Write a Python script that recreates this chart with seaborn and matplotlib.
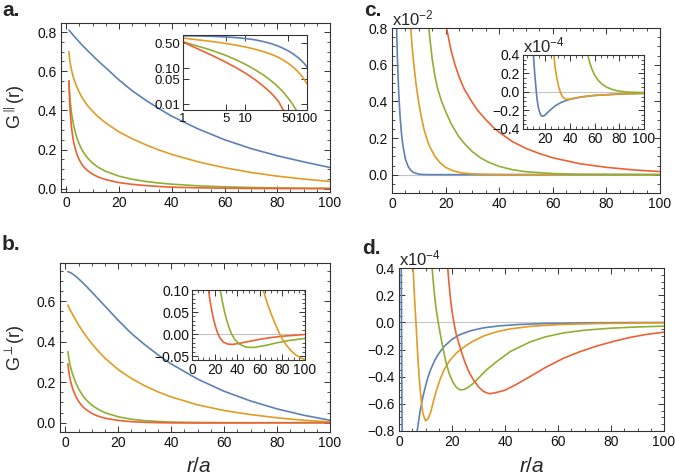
import matplotlib
matplotlib.use("Agg")
import matplotlib.pyplot as plt
import seaborn as sns
from matplotlib.ticker import AutoMinorLocator, FixedLocator, NullLocator

sns.set_style("ticks")
plt.rcParams['font.family'] = ['Liberation Sans', 'DejaVu Sans']
plt.rcParams['mathtext.fontset'] = 'custom'
plt.rcParams['mathtext.rm'] = 'Liberation Sans'
plt.rcParams['mathtext.it'] = 'Liberation Sans:italic'

BLUE, ORANGE, GREEN, RED = "#5E81B5", "#E19C24", "#8FB032", "#EB6235"

# ---- panel a / b : parallel and perpendicular correlation
x_ab = [1, 1.25, 1.5, 2, 2.5, 3, 4, 5, 6, 7, 8, 10, 12, 15, 20, 25, 30, 35, 40, 50, 60, 70, 80, 90, 100]
a_blue = [0.81, 0.806, 0.802, 0.794, 0.786, 0.778, 0.763, 0.748, 0.733, 0.72, 0.706, 0.68, 0.653,
          0.617, 0.555, 0.50, 0.453, 0.41, 0.37, 0.305, 0.25, 0.205, 0.168, 0.137, 0.108]
a_orange = [0.70, 0.665, 0.64, 0.605, 0.578, 0.556, 0.52, 0.49, 0.465, 0.445, 0.425, 0.395, 0.368,
            0.335, 0.29, 0.255, 0.225, 0.198, 0.175, 0.137, 0.107, 0.083, 0.064, 0.049, 0.037]
a_green = [0.55, 0.49, 0.445, 0.385, 0.345, 0.31, 0.26, 0.225, 0.197, 0.176, 0.158, 0.13, 0.11,
           0.088, 0.064, 0.048, 0.037, 0.029, 0.023, 0.0145, 0.0093, 0.006, 0.0039, 0.0026, 0.0017]
a_red = [0.55, 0.45, 0.39, 0.31, 0.26, 0.225, 0.176, 0.145, 0.122, 0.106, 0.093, 0.074, 0.06,
         0.046, 0.031, 0.022, 0.016, 0.0115, 0.0075, 0.0044, 0.0023, 0.0012, 0.0006, 0.0003, 0.00015]

b_blue = [0.745, 0.744, 0.743, 0.74, 0.736, 0.732, 0.722, 0.71, 0.698, 0.685, 0.672, 0.645, 0.617,
          0.575, 0.505, 0.44, 0.385, 0.335, 0.29, 0.215, 0.155, 0.107, 0.068, 0.037, 0.012]
b_orange = [0.58, 0.572, 0.565, 0.552, 0.54, 0.528, 0.505, 0.483, 0.462, 0.443, 0.425, 0.39, 0.36,
            0.318, 0.262, 0.218, 0.182, 0.152, 0.127, 0.088, 0.06, 0.04, 0.024, 0.012, 0.004]
b_green = [0.35, 0.325, 0.305, 0.275, 0.25, 0.23, 0.196, 0.168, 0.146, 0.127, 0.111, 0.087, 0.069,
           0.049, 0.029, 0.017, 0.01, 0.006, 0.003, 0.001, 0.0, -0.0002, -0.0003, -0.0003, -0.0002]
b_red = [0.29, 0.26, 0.238, 0.205, 0.18, 0.16, 0.129, 0.106, 0.088, 0.074, 0.063, 0.046, 0.034,
         0.022, 0.011, 0.005, 0.002, 0.0, -0.001, -0.0015, -0.001, -0.0008, -0.0005, -0.0002, 0.0]

# inset b
bi_red_x = [14.6, 16, 17.5, 19, 21, 23, 25, 28, 32, 36, 40, 50, 60, 70, 80, 90, 100]
bi_red_y = [0.10, 0.075, 0.053, 0.035, 0.015, 0.0, -0.01, -0.019, -0.023, -0.0235, -0.022, -0.017,
            -0.012, -0.008, -0.005, -0.003, -0.001]
bi_green_x = [25, 27, 29, 31, 33, 35, 38, 42, 48, 55, 65, 75, 85, 100]
bi_green_y = [0.10, 0.072, 0.048, 0.029, 0.013, 0.0, -0.013, -0.023, -0.03, -0.0305, -0.026, -0.02,
              -0.015, -0.01]
bi_orange_x = [63, 65, 67, 70, 73, 76, 78, 80, 84, 88, 92, 96, 100]
bi_orange_y = [0.10, 0.083, 0.067, 0.046, 0.027, 0.009, -0.002, -0.012, -0.027, -0.039, -0.048,
               -0.054, -0.058]
bi_blue_x = [98.5, 100]
bi_blue_y = [0.13, 0.095]

# ---- panel c (x10^-2)
c_blue_x = [1.5, 1.8, 2.1, 2.5, 3, 3.5, 4, 5, 6, 7, 8, 10, 12, 15, 100]
c_blue_y = [0.95, 0.75, 0.6, 0.45, 0.32, 0.23, 0.165, 0.085, 0.045, 0.024, 0.012, 0.003, 0.0005, 0.0, 0.0]
c_orange_x = [6.5, 7, 7.5, 8, 9, 10, 11, 12, 13, 14, 16, 18, 20, 23, 26, 30, 40, 100]
c_orange_y = [0.92, 0.8, 0.7, 0.62, 0.49, 0.39, 0.31, 0.245, 0.195, 0.155, 0.1, 0.064, 0.04, 0.02,
              0.01, 0.004, 0.0005, 0.0]
c_green_x = [13.5, 14, 15, 16, 17, 18.5, 20, 22, 24.8, 27, 30, 33, 36, 40, 45, 50, 60, 70, 100]
c_green_y = [0.85, 0.76, 0.63, 0.54, 0.47, 0.4, 0.345, 0.28, 0.21, 0.17, 0.125, 0.092, 0.068, 0.045,
             0.027, 0.016, 0.006, 0.002, 0.0]
c_red_x = [19.5, 20.5, 22, 23.5, 25, 27, 29.7, 32, 35, 38, 40.3, 45, 50, 55, 60, 70, 80, 90, 100]
c_red_y = [0.88, 0.79, 0.68, 0.6, 0.535, 0.465, 0.4, 0.35, 0.3, 0.255, 0.228, 0.18, 0.143, 0.115,
           0.092, 0.06, 0.04, 0.026, 0.017]

# inset c (x10^-4)
ci_blue_x = [10.5, 11, 11.5, 12, 12.8, 13.5, 14.5, 15.5, 16.5, 17.5, 19, 21, 24, 28, 33, 40, 50, 60, 80, 100]
ci_blue_y = [0.4, 0.29, 0.2, 0.12, 0.0, -0.09, -0.17, -0.22, -0.25, -0.262, -0.258, -0.235, -0.195,
             -0.15, -0.112, -0.078, -0.052, -0.037, -0.022, -0.015]
ci_orange_x = [27, 28, 29, 30, 31, 32.3, 33.5, 35, 36.5, 38, 40, 45, 50, 60, 80, 100]
ci_orange_y = [0.4, 0.27, 0.18, 0.11, 0.05, 0.0, -0.04, -0.066, -0.077, -0.079, -0.076, -0.063,
               -0.052, -0.037, -0.022, -0.015]
ci_green_x = [54.5, 56, 58, 60, 63, 66, 70, 75, 80, 85, 90, 100]
ci_green_y = [0.4, 0.32, 0.24, 0.185, 0.125, 0.085, 0.05, 0.024, 0.009, 0.001, -0.003, -0.006]

# ---- panel d (x10^-4)
d_blue_x = [0.5, 0.8, 1.1, 1.5, 2.5, 4, 5.5, 6.5, 7, 8, 9, 10, 11, 12, 13.5, 15, 17, 20, 23, 27,
            32, 38, 45, 55, 70, 85, 100]
d_blue_y = [1.5, 0.6, -0.6, -1.5, -2.5, -2.2, -1.3, -0.85, -0.78, -0.65, -0.55, -0.47, -0.4, -0.345,
            -0.28, -0.23, -0.178, -0.125, -0.09, -0.062, -0.04, -0.026, -0.016, -0.009, -0.004,
            -0.002, -0.001]
d_orange_x = [5.2, 5.6, 6.0, 6.4, 7, 7.6, 8.3, 9, 10, 11, 12, 13, 14, 15.5, 17, 19, 21.7, 25, 28,
              32, 36.8, 42, 49.4, 60, 74.5, 90, 100]
d_orange_y = [0.45, 0.28, 0.13, 0.0, -0.22, -0.4, -0.56, -0.67, -0.725, -0.71, -0.66, -0.58, -0.51,
              -0.42, -0.35, -0.285, -0.225, -0.175, -0.138, -0.1, -0.07, -0.048, -0.03, -0.017,
              -0.009, -0.005, -0.004]
d_green_x = [12.3, 12.8, 13.4, 14, 14.8, 15.7, 16.7, 17.8, 19, 20.3, 21.7, 23, 24.5, 26, 28, 30.5,
             33, 36.8, 42, 49.4, 55, 62, 70, 80, 90, 100]
d_green_y = [0.45, 0.33, 0.2, 0.1, 0.0, -0.1, -0.2, -0.3, -0.38, -0.44, -0.48, -0.497, -0.495,
             -0.48, -0.45, -0.4, -0.35, -0.29, -0.215, -0.145, -0.108, -0.078, -0.058, -0.043,
             -0.034, -0.028]
d_red_x = [18.2, 18.8, 19.5, 20.1, 20.7, 21.5, 22.5, 23.6, 25, 26.5, 28, 30, 32, 34, 36, 40, 44,
           49.4, 55, 62, 68, 74.5, 81, 87, 93, 100]
d_red_y = [0.45, 0.3, 0.16, 0.07, 0.0, -0.08, -0.15, -0.22, -0.3, -0.37, -0.42, -0.475, -0.51,
           -0.525, -0.52, -0.5, -0.46, -0.40, -0.335, -0.265, -0.218, -0.175, -0.14, -0.112,
           -0.09, -0.072]

W, H = 675, 476
fig = plt.figure(figsize=(W / 100, H / 100), dpi=100)


def box(l, r, t, b):
    return [l / W, 1 - b / H, (r - l) / W, (b - t) / H]


def style(ax):
    for s in ax.spines.values():
        s.set_linewidth(0.8)
        s.set_color("#333333")
    ax.tick_params(which="both", direction="in", top=True, right=True, labelsize=10,
                   colors="#333333", labelcolor="#111111", pad=3)
    ax.tick_params(which="major", length=4, width=0.7)
    ax.tick_params(which="minor", length=2, width=0.6)
    ax.set_xlabel("")
    ax.set_ylabel("")


def curve(ax, x, y, c):
    sns.lineplot(x=x, y=y, ax=ax, color=c, lw=1.2, sort=False, estimator=None)


def zero(ax):
    ax.axhline(0, color="#c4c4c4", lw=0.8, zorder=0)


# ---------------- a
ax = fig.add_axes(box(61, 330, 23, 192))
for y, c in [(a_blue, BLUE), (a_orange, ORANGE), (a_green, GREEN), (a_red, RED)]:
    curve(ax, x_ab, y, c)
ax.set_xlim(-2, 100)
ax.set_ylim(-0.017, 0.846)
ax.set_xticks([0, 20, 40, 60, 80, 100])
ax.set_yticks([0.0, 0.2, 0.4, 0.6, 0.8])
ax.set_yticklabels(["0.0", "0.2", "0.4", "0.6", "0.8"])
ax.xaxis.set_minor_locator(AutoMinorLocator(4))
ax.yaxis.set_minor_locator(AutoMinorLocator(4))
style(ax)
fig.text(15 / W, 1 - 107 / H, r"G$^{\parallel}$(r)", rotation=90, fontsize=13, ha="center", va="center")

ax = fig.add_axes(box(183, 307, 35, 110))
ax.set_xscale("log")
ax.set_yscale("log")
for y, c in [(a_blue, BLUE), (a_orange, ORANGE), (a_green, GREEN), (a_red, RED)]:
    curve(ax, x_ab, y, c)
ax.set_xlim(1, 100)
ax.set_ylim(0.0068, 0.85)
ax.xaxis.set_major_locator(FixedLocator([1, 5, 10, 50, 100]))
ax.set_xticklabels(["1", "5", "10", "50", "100"])
ax.yaxis.set_major_locator(FixedLocator([0.01, 0.05, 0.1, 0.5]))
ax.set_yticklabels(["0.01", "0.05", "0.10", "0.50"])
ax.xaxis.set_minor_locator(NullLocator())
ax.yaxis.set_minor_locator(NullLocator())
style(ax)
ax.tick_params(pad=2, labelsize=9.5)

# ---------------- b
ax = fig.add_axes(box(60, 330, 263, 432))
for y, c in [(b_blue, BLUE), (b_orange, ORANGE), (b_green, GREEN), (b_red, RED)]:
    curve(ax, x_ab, y, c)
ax.set_xlim(-2, 100)
ax.set_ylim(-0.046, 0.788)
ax.set_xticks([0, 20, 40, 60, 80, 100])
ax.set_yticks([0.0, 0.2, 0.4, 0.6])
ax.set_yticklabels(["0.0", "0.2", "0.4", "0.6"])
ax.xaxis.set_minor_locator(AutoMinorLocator(4))
ax.yaxis.set_minor_locator(AutoMinorLocator(4))
style(ax)
fig.text(15 / W, 1 - 348 / H, r"G$^{\perp}$(r)", rotation=90, fontsize=13, ha="center", va="center")
fig.text(199 / W, 1 - 466 / H, r"$r/a$", fontsize=15, ha="center", va="center")

ax = fig.add_axes(box(192, 305, 290, 360))
zero(ax)
for xx, yy, c in [(bi_red_x, bi_red_y, RED), (bi_green_x, bi_green_y, GREEN),
                  (bi_orange_x, bi_orange_y, ORANGE), (bi_blue_x, bi_blue_y, BLUE)]:
    curve(ax, xx, yy, c)
ax.set_xlim(0, 100)
ax.set_ylim(-0.059, 0.10)
ax.set_xticks([0, 20, 40, 60, 80, 100])
ax.set_yticks([-0.05, 0.0, 0.05, 0.10])
ax.set_yticklabels(["\u22120.05", "0.00", "0.05", "0.10"])
ax.xaxis.set_minor_locator(AutoMinorLocator(4))
ax.yaxis.set_minor_locator(AutoMinorLocator(5))
style(ax)
ax.tick_params(pad=2)

# ---------------- c
ax = fig.add_axes(box(392, 660, 28, 193))
zero(ax)
for xx, yy, c in [(c_blue_x, c_blue_y, BLUE), (c_orange_x, c_orange_y, ORANGE),
                  (c_green_x, c_green_y, GREEN), (c_red_x, c_red_y, RED)]:
    curve(ax, xx, yy, c)
ax.set_xlim(0, 100)
ax.set_ylim(-0.1, 0.8)
ax.set_xticks([0, 20, 40, 60, 80, 100])
ax.set_yticks([0.0, 0.2, 0.4, 0.6, 0.8])
ax.set_yticklabels(["0.0", "0.2", "0.4", "0.6", "0.8"])
ax.xaxis.set_minor_locator(AutoMinorLocator(4))
ax.yaxis.set_minor_locator(AutoMinorLocator(4))
style(ax)
fig.text(392 / W, 1 - 28 / H, r"x10$^{-2}$", fontsize=12, ha="left", va="bottom")

ax = fig.add_axes(box(523, 644, 55, 129))
zero(ax)
for xx, yy, c in [(ci_blue_x, ci_blue_y, BLUE), (ci_orange_x, ci_orange_y, ORANGE),
                  (ci_green_x, ci_green_y, GREEN)]:
    curve(ax, xx, yy, c)
ax.set_xlim(2, 100)
ax.set_ylim(-0.4, 0.4)
ax.set_xticks([20, 40, 60, 80, 100])
ax.set_yticks([-0.4, -0.2, 0.0, 0.2, 0.4])
ax.set_yticklabels(["\u22120.4", "\u22120.2", "0.0", "0.2", "0.4"])
ax.xaxis.set_minor_locator(AutoMinorLocator(4))
ax.yaxis.set_minor_locator(AutoMinorLocator(4))
style(ax)
ax.tick_params(pad=2)
fig.text(523 / W, 1 - 55 / H, r"x10$^{-4}$", fontsize=12, ha="left", va="bottom")

# ---------------- d
ax = fig.add_axes(box(399, 664, 268, 431))
zero(ax)
for xx, yy, c in [(d_blue_x, d_blue_y, BLUE), (d_orange_x, d_orange_y, ORANGE),
                  (d_green_x, d_green_y, GREEN), (d_red_x, d_red_y, RED)]:
    curve(ax, xx, yy, c)
ax.set_xlim(0, 100)
ax.set_ylim(-0.8, 0.4)
ax.set_xticks([0, 20, 40, 60, 80, 100])
ax.set_yticks([-0.8, -0.6, -0.4, -0.2, 0.0, 0.2, 0.4])
ax.set_yticklabels(["\u22120.8", "\u22120.6", "\u22120.4", "\u22120.2", "0.0", "0.2", "0.4"])
ax.xaxis.set_minor_locator(AutoMinorLocator(4))
ax.yaxis.set_minor_locator(AutoMinorLocator(4))
style(ax)
fig.text(399 / W, 1 - 268 / H, r"x10$^{-4}$", fontsize=12, ha="left", va="bottom")
fig.text(532 / W, 1 - 466 / H, r"$r/a$", fontsize=15, ha="center", va="center")

# panel letters
for lbl, px, py in [("a.", 2, 11), ("b.", 2, 245), ("c.", 364, 10), ("d.", 362, 248)]:
    fig.text(px / W, 1 - py / H, lbl, fontsize=15, fontweight="bold", ha="left", va="center")

fig.savefig("out.png", dpi=100)
